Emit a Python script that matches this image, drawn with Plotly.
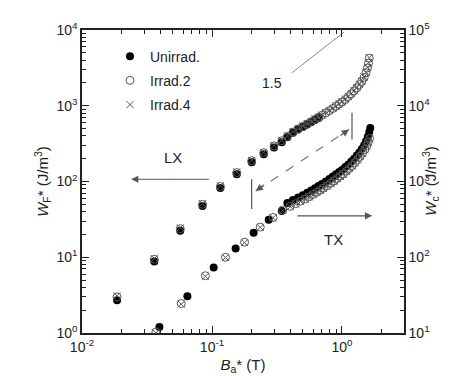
import plotly.graph_objects as go

# LX series (left axis, W_F*)
lx_b_unirr = [0.0186, 0.036, 0.057, 0.0845, 0.116, 0.155, 0.202, 0.25, 0.30, 0.344,
              0.38, 0.42, 0.46, 0.50, 0.54, 0.58, 0.62, 0.66]
lx_w_unirr = [2.7, 8.8, 22.4, 47.6, 82, 125, 180, 229, 282, 330,
              385, 440, 485, 525, 565, 605, 650, 690]

lx_b_irr = [0.0186, 0.036, 0.057, 0.0845, 0.116, 0.155, 0.202, 0.25, 0.30, 0.344,
            0.38, 0.42, 0.46, 0.50, 0.54, 0.58, 0.62, 0.66, 0.70, 0.75, 0.80, 0.85,
            0.90, 0.95, 1.00, 1.06, 1.12, 1.18, 1.24, 1.30, 1.36, 1.42, 1.48, 1.53,
            1.57, 1.60, 1.62]
lx_w_irr2 = [3.0, 9.4, 23.8, 50, 86, 131, 188, 240, 295, 345,
             395, 450, 495, 535, 575, 618, 662, 705, 748, 805, 860, 920,
             985, 1050, 1120, 1210, 1320, 1440, 1570, 1720, 1900, 2100, 2370, 2730,
             3150, 3650, 4250]
lx_w_irr4 = [3.1, 9.6, 24.5, 51, 88, 134, 190, 243, 298, 350,
             400, 455, 500, 540, 580, 622, 668, 710, 752, 810, 865, 925,
             990, 1060, 1130, 1220, 1330, 1450, 1580, 1740, 1920, 2120, 2400, 2760,
             3200, 3700, 4320]

# TX series (right axis, W_c*)
tx_b_unirr = [0.0394, 0.0647, 0.103, 0.152, 0.209, 0.273, 0.344,
              0.38, 0.42, 0.46, 0.50, 0.54, 0.58, 0.62, 0.66, 0.70, 0.75, 0.80, 0.85,
              0.90, 0.95, 1.00, 1.06, 1.12, 1.18, 1.24, 1.30, 1.36, 1.42, 1.48, 1.53,
              1.58, 1.62, 1.65]
tx_w_unirr = [12, 30.5, 73, 130, 211, 312, 409,
              520, 570, 615, 660, 710, 760, 815, 870, 930, 1000, 1080, 1160,
              1250, 1330, 1420, 1550, 1680, 1830, 2000, 2200, 2420, 2680, 3000, 3400,
              3900, 4500, 5100]

tx_b_irr = [0.037, 0.058, 0.089, 0.127, 0.178, 0.235, 0.295, 0.35,
            0.40, 0.44, 0.48, 0.52, 0.56, 0.60, 0.64, 0.68, 0.72, 0.77, 0.82, 0.87,
            0.92, 0.97, 1.02, 1.08, 1.14, 1.20, 1.26, 1.32, 1.38, 1.44, 1.50, 1.55,
            1.59, 1.63]
tx_w_irr2 = [10.3, 24.5, 57, 100, 158, 250, 335, 420,
             470, 510, 550, 590, 630, 675, 720, 770, 820, 880, 950, 1020,
             1100, 1180, 1260, 1370, 1490, 1620, 1780, 1950, 2150, 2380, 2650, 2950,
             3300, 3700]
tx_w_irr4 = [10.0, 24.0, 56, 99, 156, 248, 332, 415,
             465, 505, 545, 585, 625, 670, 715, 765, 815, 875, 940, 1010,
             1090, 1170, 1250, 1360, 1480, 1600, 1760, 1930, 2130, 2350, 2620, 2920,
             3250, 3650]

x_ticks = [0.01, 0.1, 1]
x_labels = ["10<sup>-2</sup>", "10<sup>-1</sup>", "10<sup>0</sup>"]
y_ticks = [1, 10, 100, 1000, 10000]
y_labels = ["10<sup>0</sup>", "10<sup>1</sup>", "10<sup>2</sup>", "10<sup>3</sup>", "10<sup>4</sup>"]
y2_ticks = [10, 100, 1000, 10000, 100000]
y2_labels = ["10<sup>1</sup>", "10<sup>2</sup>", "10<sup>3</sup>", "10<sup>4</sup>", "10<sup>5</sup>"]

FONT = "Liberation Sans, Arial, sans-serif"
GRAY = "#555555"

filled = dict(symbol="circle", size=8, color="black")
opened = dict(symbol="circle-open", size=8, color=GRAY, line=dict(width=1, color=GRAY))
cross = dict(symbol="x-thin-open", size=7, color=GRAY, line=dict(width=1, color=GRAY))

fig = go.Figure()
fig.add_trace(go.Scatter(x=lx_b_unirr, y=lx_w_unirr, mode="markers", marker=filled,
                         name="Unirrad.", legendgroup="u"))
fig.add_trace(go.Scatter(x=tx_b_unirr, y=tx_w_unirr, mode="markers", marker=filled,
                         yaxis="y2", showlegend=False, legendgroup="u"))
fig.add_trace(go.Scatter(x=lx_b_irr, y=lx_w_irr2, mode="markers", marker=opened,
                         name="Irrad.2", legendgroup="i2"))
fig.add_trace(go.Scatter(x=tx_b_irr, y=tx_w_irr2, mode="markers", marker=opened,
                         yaxis="y2", showlegend=False, legendgroup="i2"))
fig.add_trace(go.Scatter(x=lx_b_irr, y=lx_w_irr4, mode="markers", marker=cross,
                         name="Irrad.4", legendgroup="i4"))
fig.add_trace(go.Scatter(x=tx_b_irr, y=tx_w_irr4, mode="markers", marker=cross,
                         yaxis="y2", showlegend=False, legendgroup="i4"))

# slope guide and the bars at the ends of the dashed arrow
fig.add_trace(go.Scatter(x=[0.411, 1.036], y=[2716, 9380], mode="lines",
                         line=dict(color="#888888", width=1), showlegend=False))
fig.add_trace(go.Scatter(x=[0.2018, 0.2018], y=[43.5, 107], mode="lines",
                         line=dict(color=GRAY, width=1.2), showlegend=False))
fig.add_trace(go.Scatter(x=[1.194, 1.194], y=[359, 811], mode="lines",
                         line=dict(color=GRAY, width=1.2), showlegend=False))
fig.add_trace(go.Scatter(x=[0.217, 1.13], y=[74.8, 486], mode="lines",
                         line=dict(color="#777777", width=1.2, dash="dash"), showlegend=False))

anns = [
    dict(x=-1.297, y=2.32, text="LX", showarrow=False, font=dict(size=15)),
    dict(x=-0.062, y=1.232, text="TX", showarrow=False, font=dict(size=15)),
    dict(x=-0.541, y=3.30, text="1.5", showarrow=False, font=dict(size=14)),
    # LX arrow (points left)
    dict(x=-1.622, y=2.03, ax=-1.012, ay=2.03, axref="x", ayref="y", text="",
         showarrow=True, arrowhead=2, arrowsize=1.2, arrowwidth=1.2, arrowcolor=GRAY),
    # TX arrow (points right)
    dict(x=0.232, y=1.547, ax=-0.355, ay=1.547, axref="x", ayref="y", text="",
         showarrow=True, arrowhead=2, arrowsize=1.2, arrowwidth=1.2, arrowcolor=GRAY),
    # heads of the dashed double arrow
    dict(x=-0.664, y=1.874, ax=10, ay=-7, text="", showarrow=True, arrowhead=2,
         arrowsize=1.2, arrowwidth=1.2, arrowcolor=GRAY),
    dict(x=0.054, y=2.687, ax=-10, ay=7, text="", showarrow=True, arrowhead=2,
         arrowsize=1.2, arrowwidth=1.2, arrowcolor=GRAY),
]
for a in anns:
    a.setdefault("xref", "x")
    a.setdefault("yref", "y")
# right-hand axis title, placed beside the tick labels
anns.append(dict(xref="paper", yref="paper", x=1.12, y=0.5, textangle=-90,
                 text="<i>W</i><sub>c</sub>* (J/m<sup>3</sup>)", showarrow=False,
                 font=dict(size=15)))
fig.update_layout(annotations=anns)

minor_x = [m * 10 ** e for e in (-2, -1, 0) for m in range(2, 10) if m * 10 ** e < 3]
minor_y = [m * 10 ** e for e in range(0, 4) for m in range(2, 10)]
minor_y2 = [m * 10 ** e for e in range(1, 5) for m in range(2, 10)]

axis_common = dict(showgrid=False, zeroline=False, showline=True, linecolor="#222",
                   linewidth=1.5, ticks="inside", ticklen=7, tickcolor="#222",
                   tickfont=dict(size=14, color="#222"))

fig.update_layout(
    width=450, height=376,
    margin=dict(l=74, r=54, t=20, b=51),
    paper_bgcolor="white", plot_bgcolor="white",
    font=dict(family=FONT, color="#222"),
    xaxis=dict(type="log", range=[-2, 0.477], tickvals=x_ticks, ticktext=x_labels,
               mirror="ticks",
               minor=dict(tickmode="array", tickvals=minor_x, ticks="inside", ticklen=4,
                          tickcolor="#222"),
               title=dict(text="<i>B</i><sub>a</sub>* (T)", font=dict(size=15), standoff=6),
               **axis_common),
    yaxis=dict(type="log", range=[0, 4], tickvals=y_ticks, ticktext=y_labels,
               minor=dict(tickmode="array", tickvals=minor_y, ticks="inside", ticklen=4,
                          tickcolor="#222"),
               title=dict(text="<i>W</i><sub>F</sub>* (J/m<sup>3</sup>)", font=dict(size=15),
                          standoff=4),
               **axis_common),
    yaxis2=dict(type="log", range=[1, 5], overlaying="y", side="right",
                tickvals=y2_ticks, ticktext=y2_labels,
                minor=dict(tickmode="array", tickvals=minor_y2, ticks="inside", ticklen=4,
                           tickcolor="#222"),
                **axis_common),
    legend=dict(x=0.087, y=0.965, xanchor="left", yanchor="top", bgcolor="rgba(0,0,0,0)",
                font=dict(size=14, color="#222"), tracegroupgap=3),
)

fig.write_html("out.html")
